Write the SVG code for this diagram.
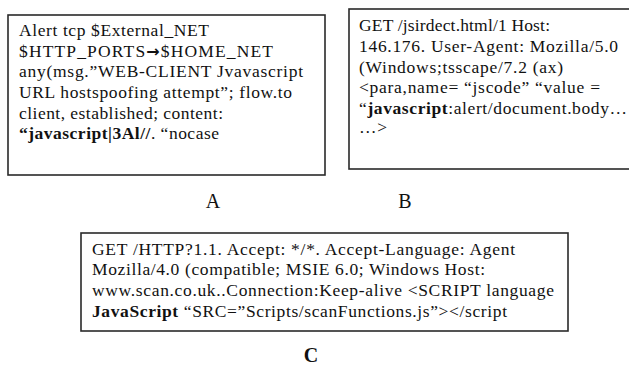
<svg xmlns="http://www.w3.org/2000/svg" width="629" height="370" viewBox="0 0 629 370">
<style>
.box{fill:#fff;stroke:#2a2a2a;stroke-width:1.6}
.t{font-family:"Liberation Serif","Times New Roman",serif;font-size:17.5px;fill:#111}
.b{font-weight:bold}
.arr{font-family:"DejaVu Sans",sans-serif;font-weight:bold;font-size:16px}
.lbl{font-family:"Liberation Serif","Times New Roman",serif;font-size:20px;fill:#111;text-anchor:middle}
</style>
<rect width="629" height="370" fill="#fff"/>
<g id="nodeA">
<rect class="box" x="8" y="15" width="317" height="160"/>
<text class="t" x="19" y="36" textLength="190" lengthAdjust="spacing">Alert tcp $External_NET</text>
<text class="t" x="19" y="57" textLength="254" lengthAdjust="spacing">$HTTP_PORTS<tspan class="arr">→</tspan>$HOME_NET</text>
<text class="t" x="19" y="77" textLength="284" lengthAdjust="spacing">any(msg.”WEB-CLIENT Jvavascript</text>
<text class="t" x="19" y="98" textLength="273" lengthAdjust="spacing">URL hostspoofing attempt”; flow.to</text>
<text class="t" x="19" y="119" textLength="204" lengthAdjust="spacing">client, established; content:</text>
<text class="t" x="19" y="139" textLength="200" lengthAdjust="spacing"><tspan class="b">“javascript|3Al//</tspan>. “nocase</text>
</g>
<g id="nodeB">
<rect class="box" x="349" y="9" width="290" height="160"/>
<text class="t" x="359" y="31" textLength="191" lengthAdjust="spacing">GET /jsirdect.html/1 Host:</text>
<text class="t" x="359" y="52" textLength="259" lengthAdjust="spacing">146.176. User-Agent: Mozilla/5.0</text>
<text class="t" x="359" y="73" textLength="204" lengthAdjust="spacing">(Windows;tsscape/7.2 (ax)</text>
<text class="t" x="359" y="93" textLength="241" lengthAdjust="spacing">&lt;para,name= “jscode” “value =</text>
<text class="t" x="359" y="114" textLength="268" lengthAdjust="spacing">“<tspan class="b">javascript</tspan>:alert/document.body…</text>
<text class="t" x="359" y="133" textLength="28" lengthAdjust="spacing">…&gt;</text>
</g>
<g id="nodeC">
<rect class="box" x="81" y="233" width="487" height="98"/>
<text class="t" x="92" y="255" textLength="423" lengthAdjust="spacing">GET /HTTP?1.1. Accept: */*. Accept-Language: Agent</text>
<text class="t" x="92" y="275" textLength="393" lengthAdjust="spacing">Mozilla/4.0 (compatible; MSIE 6.0; Windows Host:</text>
<text class="t" x="92" y="296" textLength="462" lengthAdjust="spacing">www.scan.co.uk..Connection:Keep-alive &lt;SCRIPT language</text>
<text class="t" x="92" y="317" textLength="415" lengthAdjust="spacing"><tspan class="b">JavaScript</tspan> “SRC=”Scripts/scanFunctions.js”&gt;&lt;/script</text>
</g>
<g id="labels">
<text class="lbl" x="213" y="208">A</text>
<text class="lbl" x="405" y="208">B</text>
<text class="lbl" x="311" y="362" font-weight="bold">C</text>
</g>
<g id="connectors"/>
</svg>
